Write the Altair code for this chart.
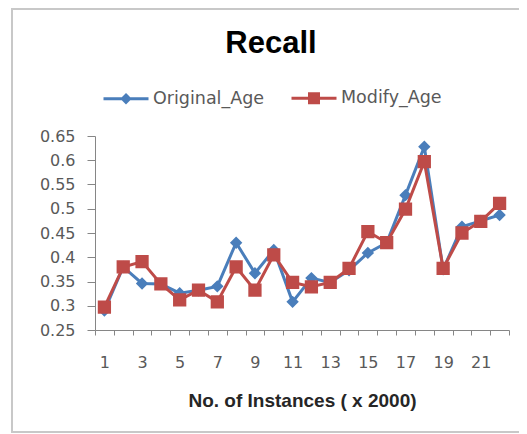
import altair as alt
import pandas as pd

instances = list(range(1, 23))
original_age = [0.290, 0.380, 0.346, 0.345, 0.326, 0.332, 0.340, 0.430, 0.367, 0.415, 0.308,
                 0.357, 0.348, 0.373, 0.409, 0.430, 0.528, 0.628, 0.375, 0.463, 0.475, 0.487]
modify_age = [0.297, 0.380, 0.391, 0.345, 0.312, 0.332, 0.308, 0.380, 0.332, 0.405, 0.348,
              0.339, 0.348, 0.377, 0.453, 0.430, 0.499, 0.597, 0.377, 0.450, 0.474, 0.511]
series_names = ["Original_Age", "Modify_Age"]
series_colors = ["#4a7ebb", "#be4b48"]
y_ticks = [0.25, 0.3, 0.35, 0.4, 0.45, 0.5, 0.55, 0.6, 0.65]
chart_title = ["Recall"]

# legend/marker shapes: a line through a diamond / square (line part is only stroked in legend)
diamond_path = "M-1,0L1,0M0,-0.16L0.16,0L0,0.16L-0.16,0Z"
square_path = "M-1,0L1,0M-0.2,-0.2L0.2,-0.2L0.2,0.2L-0.2,0.2Z"

df = pd.concat([
    pd.DataFrame({"n": instances, "v": original_age, "series": series_names[0]}),
    pd.DataFrame({"n": instances, "v": modify_age, "series": series_names[1]}),
])

x_enc = alt.X(
    "n:O",
    scale=alt.Scale(type="band", paddingInner=0, paddingOuter=0, domain=instances),
    bandPosition=0.5,
    axis=alt.Axis(
        title="No. of Instances ( x 2000)",
        titleFont="Liberation Sans", titleFontSize=19, titleFontWeight="bold",
        titleColor="#262626", titleBaseline="alphabetic", titleY=76,
        tickBand="extent", tickSize=5, labelAngle=0, labelOverlap=False,
        labelExpr="datum.value % 2 == 1 ? datum.label : ''",
        labelBaseline="alphabetic", labelPadding=32,
    ),
)
y_enc = alt.Y(
    "v:Q",
    scale=alt.Scale(domain=[0.25, 0.65], nice=False, zero=False),
    axis=alt.Axis(title=None, values=y_ticks, format=".2~f", tickSize=8, labelPadding=12),
)

legend = alt.Legend(
    title=None, orient="none", legendX=7, legendY=-62, direction="horizontal",
    symbolSize=2025, symbolStrokeWidth=3, symbolOpacity=1,
    labelFont="DejaVu Sans", labelFontSize=17.5,
    labelColor="#595959", labelOffset=3, columnPadding=20, padding=0,
)
color_enc = alt.Color("series:N", scale=alt.Scale(domain=series_names, range=series_colors), legend=legend)
stroke_enc = alt.Stroke("series:N", scale=alt.Scale(domain=series_names, range=series_colors), legend=legend)
shape_enc = alt.Shape("series:N", scale=alt.Scale(domain=series_names, range=[diamond_path, square_path]), legend=legend)

base = alt.Chart(df)
layers = []
sizes = [6000, 4400]
for name, col, sz in zip(series_names, series_colors, sizes):
    sub = base.transform_filter(alt.datum.series == name)
    layers.append(sub.mark_line(color=col, strokeWidth=3).encode(x=x_enc, y=y_enc))
    layers.append(sub.mark_point(filled=True, opacity=1, size=sz, strokeWidth=0).encode(
        x=x_enc, y=y_enc, color=color_enc, stroke=stroke_enc, shape=shape_enc))

border = alt.Chart(pd.DataFrame({"a": [0]})).mark_rect(
    fill="transparent", stroke="#c8c8c8", strokeWidth=2
).encode(x=alt.value(-83), x2=alt.value(460), y=alt.value(-127), y2=alt.value(296))

title = alt.Chart(pd.DataFrame({"t": chart_title})).mark_text(
    font="Liberation Sans", fontSize=31, fontWeight="bold", color="#000000",
    align="center", baseline="alphabetic"
).encode(text="t:N", x=alt.value(176), y=alt.value(-83))

chart = alt.layer(border, title, *layers).properties(
    width=414, height=194,
    autosize=alt.AutoSizeParams(type="none"),
    padding={"left": 87, "top": 128, "right": 10, "bottom": 104},
).configure_axis(
    grid=False, domainColor="#868686", tickColor="#868686",
    labelFont="DejaVu Sans", labelFontSize=16, labelColor="#595959",
).configure_view(strokeWidth=0)

chart.save("out.html", embed_options={"renderer": "svg", "actions": False})
